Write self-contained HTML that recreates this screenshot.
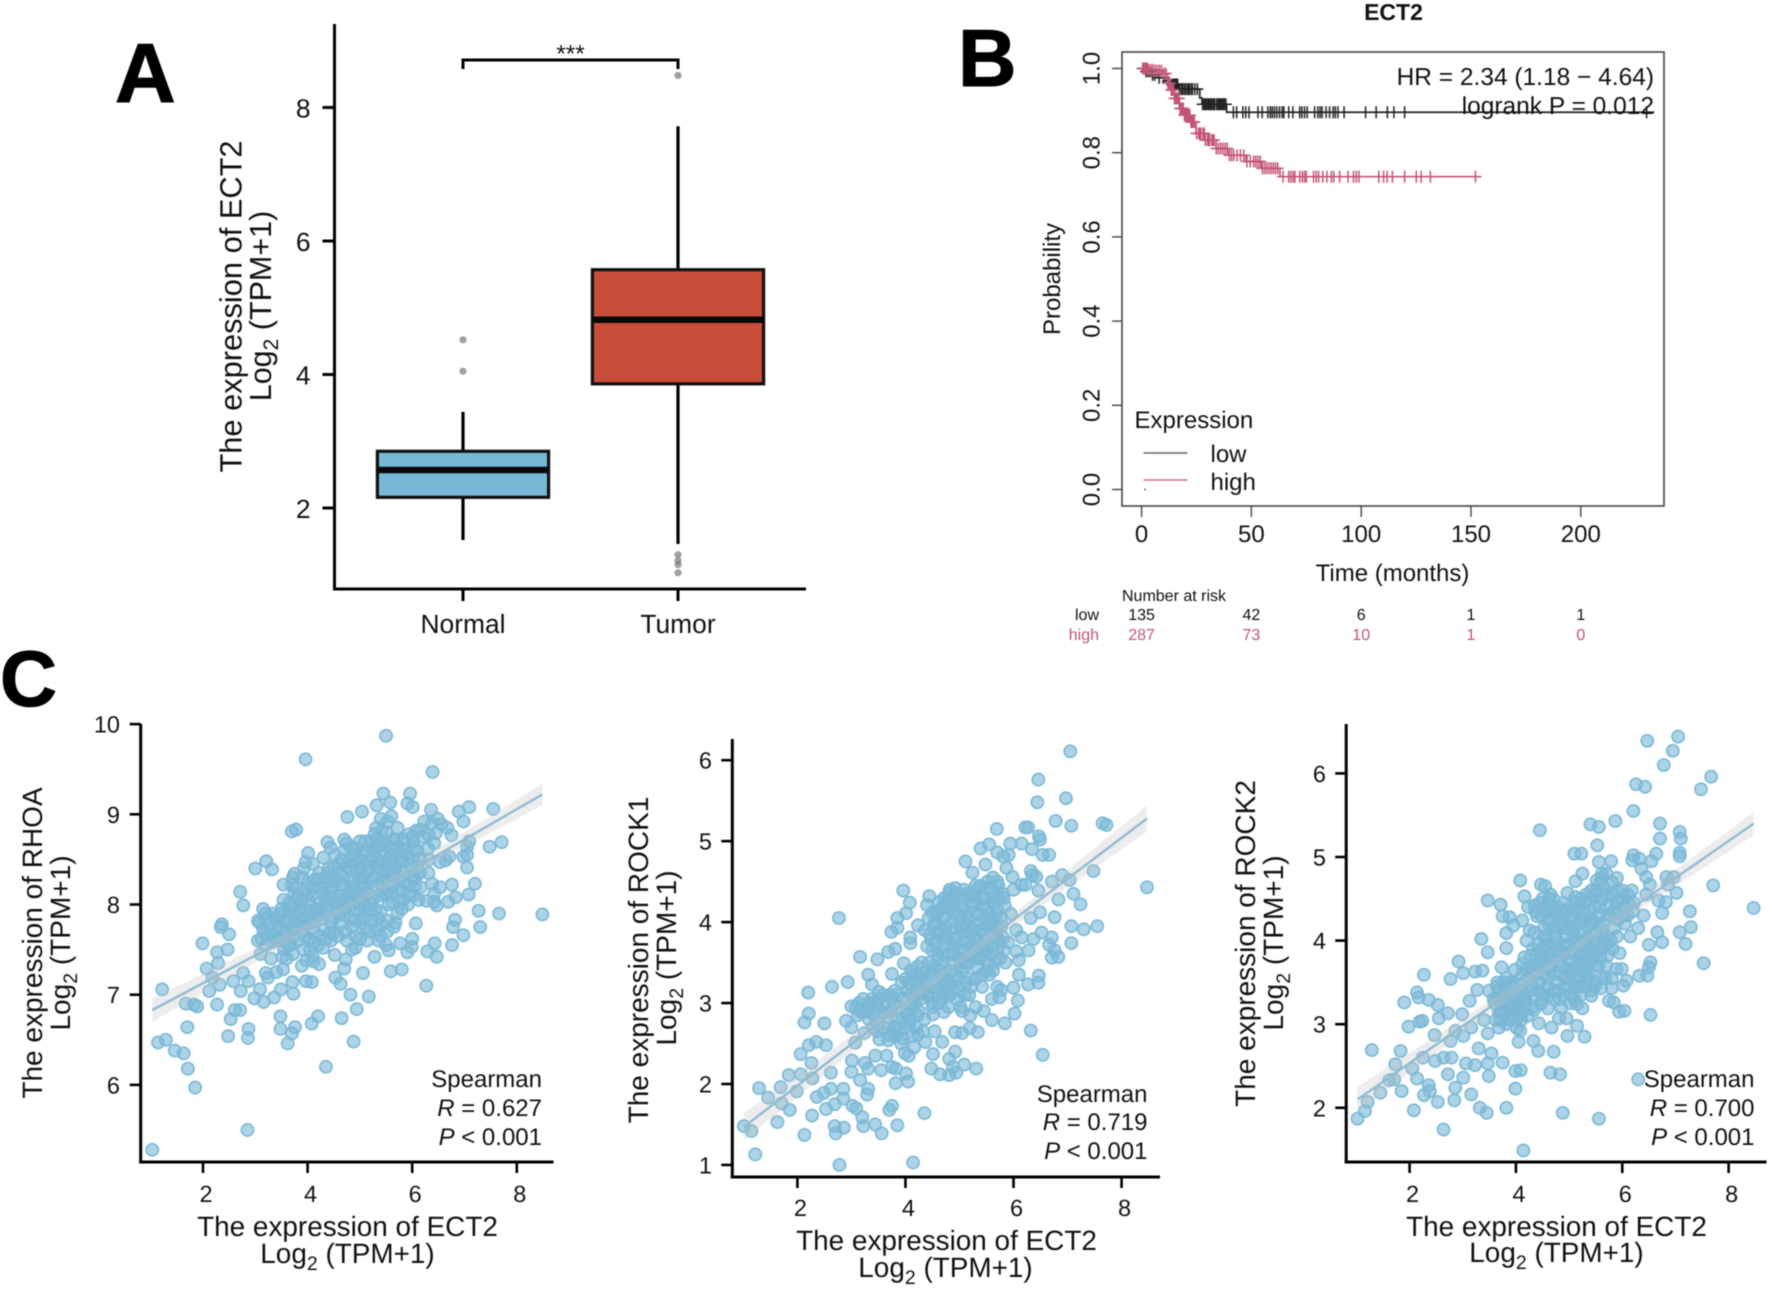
<!DOCTYPE html>
<html lang="en">
<head>
<meta charset="utf-8">
<title>ECT2 expression figure</title>
<style>
html,body{margin:0;padding:0;background:#fff;}
svg{display:block;font-family:"Liberation Sans",Arial,sans-serif;text-rendering:geometricPrecision;filter:blur(0.4px);}
</style>
</head>
<body>
<svg id="fig" xmlns="http://www.w3.org/2000/svg" width="1772" height="1290" viewBox="0 0 1772 1290">
<rect width="1772" height="1290" fill="#fff"/>
<text x="115" y="102" font-size="84" font-weight="bold" stroke="#000" stroke-width="1">A</text>
<text x="958" y="86" font-size="81" font-weight="bold" stroke="#000" stroke-width="1">B</text>
<text x="0" y="706" font-size="79" font-weight="bold" stroke="#000" stroke-width="1">C</text>

<g id="panelA"></g>
<text transform="translate(241.5,306.5) rotate(-90)" text-anchor="middle" font-size="30.8" fill="#111">The expression of ECT2</text>
<text transform="translate(271,306) rotate(-90)" text-anchor="middle" font-size="30.5" fill="#111">Log<tspan font-size="21" dy="7">2</tspan><tspan dy="-7"> (TPM+1)</tspan></text>

<g id="panelB"></g>
<text x="1393.5" y="20" text-anchor="middle" font-size="23" font-weight="bold" fill="#111">ECT2</text>
<text x="1654" y="85" text-anchor="end" font-size="24.5" fill="#111">HR = 2.34 (1.18 − 4.64)</text>
<text x="1654" y="114" text-anchor="end" font-size="24.5" fill="#111">logrank P = 0.012</text>
<text transform="translate(1060,279) rotate(-90)" text-anchor="middle" font-size="24" fill="#111">Probability</text>
<text x="1392.5" y="581" text-anchor="middle" font-size="24" fill="#111">Time (months)</text>
<text x="1134.5" y="428" font-size="24" fill="#111">Expression</text>
<line x1="1143.5" x2="1187.5" y1="453" y2="453" stroke="#666" stroke-width="1.6"/>
<text x="1210.5" y="462" font-size="24" fill="#111">low</text>
<line x1="1143.5" x2="1187.5" y1="480" y2="480" stroke="#cc6c8a" stroke-width="1.6"/>
<text x="1210.5" y="490" font-size="24" fill="#111">high</text>
<text x="1122" y="601" font-size="16" fill="#111">Number at risk</text>
<text x="1099" y="620" text-anchor="end" font-size="16" fill="#111">low</text>
<text x="1099" y="640" text-anchor="end" font-size="16" fill="#c25574">high</text>

<g id="panelC1"></g>
<text transform="translate(42,943) rotate(-90)" text-anchor="middle" font-size="28" fill="#111">The expression of RHOA</text>
<text transform="translate(70,943) rotate(-90)" text-anchor="middle" font-size="28" fill="#111">Log<tspan font-size="19.5" dy="7">2</tspan><tspan dy="-7"> (TPM+1)</tspan></text>
<text x="347.5" y="1236" text-anchor="middle" font-size="27.9" fill="#111">The expression of ECT2</text>
<text x="347.5" y="1263" text-anchor="middle" font-size="27.9" fill="#111">Log<tspan font-size="19.5" dy="7">2</tspan><tspan dy="-7"> (TPM+1)</tspan></text>
<text x="542" y="1087" text-anchor="end" font-size="24" fill="#111">Spearman</text>
<text x="542" y="1116" text-anchor="end" font-size="24" fill="#111"><tspan font-style="italic">R</tspan> = 0.627</text>
<text x="542" y="1145" text-anchor="end" font-size="24" fill="#111"><tspan font-style="italic">P</tspan> &lt; 0.001</text>

<g id="panelC2"></g>
<text transform="translate(648,960) rotate(-90)" text-anchor="middle" font-size="28" fill="#111">The expression of ROCK1</text>
<text transform="translate(676,958) rotate(-90)" text-anchor="middle" font-size="28" fill="#111">Log<tspan font-size="19.5" dy="7">2</tspan><tspan dy="-7"> (TPM+1)</tspan></text>
<text x="946.5" y="1250" text-anchor="middle" font-size="27.9" fill="#111">The expression of ECT2</text>
<text x="945.5" y="1277" text-anchor="middle" font-size="27.9" fill="#111">Log<tspan font-size="19.5" dy="7">2</tspan><tspan dy="-7"> (TPM+1)</tspan></text>
<text x="1147.5" y="1102" text-anchor="end" font-size="24" fill="#111">Spearman</text>
<text x="1147.5" y="1130" text-anchor="end" font-size="24" fill="#111"><tspan font-style="italic">R</tspan> = 0.719</text>
<text x="1147.5" y="1159" text-anchor="end" font-size="24" fill="#111"><tspan font-style="italic">P</tspan> &lt; 0.001</text>

<g id="panelC3"></g>
<text transform="translate(1255,943.5) rotate(-90)" text-anchor="middle" font-size="28" fill="#111">The expression of ROCK2</text>
<text transform="translate(1283,943) rotate(-90)" text-anchor="middle" font-size="28" fill="#111">Log<tspan font-size="19.5" dy="7">2</tspan><tspan dy="-7"> (TPM+1)</tspan></text>
<text x="1556.5" y="1236" text-anchor="middle" font-size="27.9" fill="#111">The expression of ECT2</text>
<text x="1556.5" y="1262" text-anchor="middle" font-size="27.9" fill="#111">Log<tspan font-size="19.5" dy="7">2</tspan><tspan dy="-7"> (TPM+1)</tspan></text>
<text x="1754.5" y="1087" text-anchor="end" font-size="24" fill="#111">Spearman</text>
<text x="1754.5" y="1116" text-anchor="end" font-size="24" fill="#111"><tspan font-style="italic">R</tspan> = 0.700</text>
<text x="1754.5" y="1145" text-anchor="end" font-size="24" fill="#111"><tspan font-style="italic">P</tspan> &lt; 0.001</text>
</svg>

<script>
/* ---------- Panel A data ---------- */
const boxCategories = ['Normal', 'Tumor'];
const boxQ1 = [2.16, 3.86];
const boxMedian = [2.57, 4.82];
const boxQ3 = [2.85, 5.57];
const boxWhiskerLow = [1.52, 1.46];
const boxWhiskerHigh = [3.44, 7.72];
const boxOutliersNormal = [4.52, 4.05];
const boxOutliersTumor = [8.48, 1.30, 1.21, 1.15, 1.03];
const boxYTicks = [2, 4, 6, 8];

/* ---------- Panel B data ---------- */
const kmXTicks = [0, 50, 100, 150, 200];
const kmYTicks = [0, 0.2, 0.4, 0.6, 0.8, 1.0];
const lowStepTime = [0, 2, 5, 7, 11, 14, 17, 26.5, 27.5, 38.7, 233.5];
const lowStepSurv = [1.0, 0.993, 0.985, 0.978, 0.97, 0.962, 0.951, 0.93, 0.915, 0.896, 0.896];
const highStepTime = [0, 3, 5.4, 9.7, 11.9, 13.4, 15, 17.2, 19.5, 22.5, 24.8, 28.6, 33.9, 39.2, 47.5, 54.3, 63, 154];
const highStepSurv = [1.0, 0.997, 0.995, 0.988, 0.965, 0.949, 0.929, 0.905, 0.889, 0.873, 0.846, 0.83, 0.81, 0.794, 0.779, 0.763, 0.743, 0.743];
const lowCensorTime = [0.5,1,2,3,4,5,6,8,10,12,14,14.6,15.2,15.8,16.4,17.2,18,18.7,19.5,20.2,21,21.7,22.5,23.2,24.3,25.4,27.8,28.4,29,29.6,30.2,30.8,31.4,32,32.7,33.3,34.2,34.8,35.4,36,36.6,37.2,37.7,38.4,41.8,43.3,46.1,47.4,48.9,53,54.9,57.5,58.6,59.5,60.5,61.6,62.8,64,64.8,67,68.9,72,73,74.2,75.4,78.8,80.3,81.3,82.2,84,85.6,87.2,88.2,89.4,92.2,102,106.8,111.9,114.9,119.8,230];
const highCensorTime = [0.5,1,1.5,2,2.5,3,4,5,6,7,8,9,10,11,12,12.5,13,13.5,14,14.5,15,15.5,16,16.5,17,17.5,18,18.5,19,19.5,20,20.5,21,21.5,22,22.5,23,23.5,24,25,26,26.5,27,28,28.5,29,30,30.5,31,32,32.5,33,34,35,36,37,38,39,40,41,42,43.5,45,46.5,48,49.5,51,52,53,54,55,56,57,58,59,60,61,62,64.4,67,68,69,69.8,72,73.2,74.2,75,78.3,79.5,80.6,82.5,84.4,86.4,87.5,90.2,94,96.5,97.8,99,108,110.2,111.8,114.2,119.8,125.1,127.3,131.5,152];
const riskLow = [135, 42, 6, 1, 1];
const riskHigh = [287, 73, 10, 1, 0];

/* ---------- Panel C data: [ECT2, gene] ---------- */
const rhoaPoints = [[1.03,5.28],[2.85,5.50],[1.85,5.97],[1.71,6.18],[1.63,6.35],[1.46,6.38],[1.29,6.50],[1.14,6.47],[1.22,7.06],[1.70,6.64],[1.67,6.90],[1.83,6.89],[1.89,6.87],[2.27,6.89],[2.53,6.73],[2.61,6.83],[2.71,6.83],[2.48,6.54],[2.87,6.62],[2.86,6.52],[3.48,6.76],[3.48,6.62],[3.62,6.46],[3.70,6.57],[3.76,6.64],[4.08,6.68],[4.20,6.76],[4.35,6.20],[4.88,6.48],[4.65,6.74],[4.94,6.84],[5.17,6.98],[4.82,7.00],[3.36,6.97],[3.16,6.92],[2.98,6.96],[3.09,7.06],[2.72,7.04],[2.87,7.15],[2.77,7.24],[2.58,7.15],[2.32,7.11],[2.18,7.19],[2.07,7.29],[2.12,7.04],[1.99,7.57],[2.27,7.47],[2.47,7.50],[2.29,7.35],[2.50,7.67],[2.34,7.75],[2.36,7.78],[2.71,8.14],[2.77,7.99],[3.00,8.40],[3.21,8.48],[3.32,8.39],[3.54,8.22],[3.70,8.81],[3.78,8.83],[3.96,8.47],[4.01,8.57],[3.75,8.34],[4.38,8.69],[4.44,8.63],[4.76,8.97],[5.04,9.03],[5.32,9.10],[5.45,9.23],[5.50,9.87],[3.96,9.61],[6.39,9.47],[5.96,9.23],[5.91,9.12],[6.01,9.08],[6.36,9.05],[5.58,9.13],[6.89,9.03],[7.09,9.08],[6.98,8.92],[7.55,9.06],[7.71,8.69],[7.48,8.64],[7.09,8.70],[7.05,8.64],[7.05,8.55],[6.98,8.53],[7.05,8.41],[7.20,8.23],[7.08,8.11],[6.76,8.22],[6.83,8.08],[6.69,8.03],[7.27,7.93],[7.66,7.90],[8.49,7.89],[7.30,7.75],[6.98,7.66],[6.78,7.75],[6.82,7.83],[6.76,7.55],[6.43,7.57],[6.47,7.42],[6.29,7.48],[6.27,7.10],[6.00,7.62],[5.99,7.53],[5.91,7.47],[5.77,7.57],[5.80,7.28],[5.59,7.26],[5.55,7.49],[6.07,7.79],[5.28,7.42],[5.06,7.24],[4.73,7.39],[4.70,7.29],[4.63,7.12],[4.53,7.19],[4.08,7.14],[3.97,7.15],[3.71,7.14],[3.73,7.01],[3.49,7.06],[3.24,7.19],[3.20,7.24],[3.53,7.28],[3.60,7.40],[3.89,7.32],[4.11,7.37],[4.22,7.34],[4.52,7.44],[4.92,7.52],[5.14,7.60],[5.36,7.60],[6.49,8.95],[6.38,8.90],[6.23,8.92],[6.56,8.89],[6.45,8.79],[6.31,8.77],[6.67,8.85],[6.75,8.77],[6.16,8.83],[6.42,8.68],[6.64,8.49],[6.53,8.47],[6.71,8.53],[6.31,8.35],[6.38,8.23],[6.53,8.19],[6.27,8.04],[6.42,8.03],[6.47,7.99],[6.42,8.12],[6.16,8.19],[6.05,8.29],[3.05,7.82],[3.15,7.72],[3.2,7.9],[3.28,7.78],[3.35,7.66],[3.38,7.85],[3.45,7.75],[3.5,7.95],[3.55,7.68],[3.6,7.84],[3.65,8.02],[3.7,7.72],[3.75,7.9],[3.8,8.08],[3.85,7.8],[3.9,7.95],[3.78,8.18],[3.72,8.3],[3.95,7.65],[3.68,7.55],[3.2,7.55],[3.05,7.6],[3.1,7.45],[3.3,7.4],[3.4,7.25],[3.55,7.5],[4.0,8.05],[4.05,7.85],[4.1,8.2],[4.12,7.7],[4.18,7.95],[4.22,8.35],[4.28,7.85],[4.3,8.12],[4.35,7.62],[4.38,8.0],[4.4,8.4],[4.45,7.8],[4.48,8.2],[4.52,8.55],[4.55,7.95],[4.58,7.65],[4.6,8.1],[4.62,8.35],[4.05,7.5],[4.2,7.55],[3.98,7.38],[4.1,7.42],[4.3,7.52],[4.45,7.6],[4.65,8.5],[4.7,7.88],[4.72,8.2],[4.75,8.68],[4.78,8.02],[4.82,8.38],[4.85,7.75],[4.88,8.55],[4.9,8.12],[4.95,7.95],[4.98,8.3],[5.0,8.7],[5.02,8.48],[5.05,8.05],[5.08,7.85],[5.1,8.22],[5.12,8.6],[5.15,8.38],[5.18,7.7],[4.75,7.6],[4.85,7.5],[5.0,7.62],[4.7,8.72],[5.22,8.0],[5.25,8.52],[5.28,8.78],[5.3,8.2],[5.32,8.4],[5.35,7.85],[5.38,8.65],[5.4,8.95],[5.42,8.1],[5.45,8.3],[5.48,8.55],[5.5,8.8],[5.52,7.7],[5.55,8.0],[5.58,8.42],[5.6,8.98],[5.62,8.2],[5.65,8.62],[5.68,7.8],[5.7,8.35],[5.72,8.85],[5.75,8.05],[5.78,8.5],[5.8,7.95],[5.82,8.72],[5.85,8.25],[5.9,8.55],[5.95,8.1],[5.98,8.38],[6.0,8.75],[6.02,8.5],[6.05,8.2],[6.1,8.6],[6.15,8.35],[6.2,8.75],[5.5,7.55],[5.65,7.75],[5.4,7.65]];
const rhoaCorePoints = [[3.12,7.62],[3.08,7.8],[3.15,7.95],[3.32,7.58],[3.3,7.7],[3.34,7.9],[3.52,7.42],[3.5,7.6],[3.55,7.8],[3.48,7.9],[3.54,8.05],[3.72,7.45],[3.7,7.62],[3.75,7.82],[3.68,7.98],[3.74,8.12],[3.7,8.22],[3.92,7.5],[3.9,7.7],[3.95,7.85],[3.88,8.02],[3.94,8.15],[3.9,8.3],[3.93,8.4],[4.12,7.58],[4.1,7.8],[4.15,7.95],[4.08,8.1],[4.14,8.28],[4.1,8.45],[4.32,7.72],[4.3,7.9],[4.35,8.05],[4.28,8.2],[4.34,8.3],[4.3,8.52],[4.52,7.7],[4.5,7.85],[4.55,8.02],[4.48,8.15],[4.54,8.28],[4.5,8.42],[4.72,7.7],[4.7,7.95],[4.75,8.08],[4.68,8.3],[4.74,8.42],[4.7,8.6],[4.92,7.65],[4.9,7.82],[4.95,8.02],[4.88,8.2],[4.94,8.38],[4.9,8.45],[4.93,8.62],[5.12,7.75],[5.1,7.95],[5.15,8.12],[5.08,8.3],[5.14,8.48],[5.1,8.7],[5.32,7.72],[5.3,7.95],[5.35,8.1],[5.28,8.3],[5.34,8.48],[5.3,8.6],[5.33,8.72],[5.31,8.85],[5.52,7.82],[5.5,8.12],[5.55,8.25],[5.48,8.35],[5.54,8.5],[5.5,8.65],[5.53,8.92],[5.72,7.9],[5.7,8.15],[5.75,8.28],[5.68,8.42],[5.74,8.58],[5.7,8.72],[5.92,8.0],[5.9,8.22],[5.95,8.45],[5.88,8.62],[5.94,8.78],[6.12,8.05],[6.1,8.42],[6.15,8.5],[6.08,8.82],[6.32,8.5],[6.3,8.62]];
const rhoaDensePoints = [[3.2,7.68],[3.22,7.85],[3.42,7.62],[3.44,7.82],[3.62,7.55],[3.6,7.72],[3.64,7.92],[3.82,7.6],[3.8,7.75],[3.84,7.92],[3.82,8.05],[4.02,7.62],[4.0,7.78],[4.04,7.93],[4.02,8.12],[4.0,8.25],[4.22,7.65],[4.2,7.88],[4.24,8.02],[4.22,8.18],[4.2,8.28],[4.42,7.68],[4.4,7.92],[4.44,8.08],[4.42,8.25],[4.4,8.35],[4.62,7.78],[4.6,7.92],[4.64,8.05],[4.62,8.22],[4.6,8.45],[4.82,7.85],[4.8,8.02],[4.84,8.15],[4.82,8.28],[4.8,8.48],[4.84,8.62],[5.02,7.8],[5.0,7.92],[5.04,8.1],[5.02,8.25],[5.0,8.4],[5.04,8.55],[5.22,7.82],[5.2,7.95],[5.24,8.08],[5.22,8.25],[5.2,8.42],[5.24,8.6],[5.22,8.7],[5.42,7.78],[5.4,7.92],[5.44,8.2],[5.42,8.38],[5.4,8.48],[5.44,8.7],[5.42,8.82],[5.62,8.02],[5.6,8.12],[5.64,8.32],[5.62,8.45],[5.6,8.55],[5.64,8.72],[5.82,8.05],[5.8,8.15],[5.84,8.35],[5.82,8.48],[5.8,8.62],[6.02,8.1],[6.0,8.3],[6.04,8.62],[6.02,8.7]];
const rock1Points = [[1.01,1.48],[1.15,1.42],[1.22,1.13],[1.29,1.95],[1.46,1.83],[1.63,1.53],[1.69,1.96],[1.71,1.76],[1.86,1.68],[1.84,2.11],[1.99,1.91],[2.06,2.12],[2.06,2.37],[2.13,1.37],[2.13,2.76],[2.21,2.87],[2.20,3.13],[2.27,1.61],[2.21,2.48],[2.35,2.52],[2.26,2.26],[2.28,2.07],[2.36,1.84],[2.49,1.89],[2.53,1.69],[2.50,2.75],[2.64,3.20],[2.53,2.48],[2.62,2.14],[2.62,1.94],[2.69,1.75],[2.69,1.48],[2.71,1.39],[2.78,1.00],[2.86,1.46],[2.85,1.94],[2.85,1.82],[2.93,3.26],[2.77,4.05],[3.02,1.73],[3.09,1.70],[3.20,1.59],[3.22,1.48],[3.44,1.50],[3.56,1.39],[3.31,1.94],[3.29,1.87],[3.16,2.05],[3.00,2.15],[3.01,2.29],[3.25,2.26],[3.31,2.19],[3.70,1.68],[3.75,1.73],[3.85,1.49],[4.35,1.64],[4.14,1.03],[3.82,2.01],[4.05,2.03],[4.01,2.13],[4.48,2.19],[4.64,2.12],[4.81,2.11],[4.94,2.14],[5.09,2.24],[5.31,2.19],[4.88,2.21],[4.51,2.37],[4.81,2.31],[4.92,2.40],[4.68,2.52],[4.37,2.52],[4.16,2.45],[3.99,2.38],[4.06,2.35],[3.44,2.35],[3.65,2.35],[3.82,2.19],[3.55,2.17],[3.75,2.21],[6.32,2.66],[6.54,2.36],[4.92,2.64],[5.05,2.63],[5.19,2.69],[5.34,2.64],[5.60,2.79],[5.84,2.75],[6.02,2.87],[6.08,3.03],[5.74,3.07],[5.77,3.16],[6.00,3.19],[6.27,3.23],[6.46,3.25],[6.47,3.34],[6.28,3.65],[6.10,3.53],[6.05,3.64],[5.81,3.81],[6.15,3.81],[6.37,3.79],[6.71,3.81],[6.52,3.87],[6.66,3.72],[6.83,3.57],[6.71,3.56],[6.76,3.65],[7.07,3.74],[7.07,3.95],[7.30,3.91],[7.55,3.95],[6.76,4.06],[6.83,4.28],[7.24,4.22],[7.11,4.35],[8.47,4.43],[7.48,4.63],[6.90,4.58],[6.71,4.50],[7.04,4.52],[6.49,4.12],[6.32,4.05],[6.46,4.39],[6.32,4.63],[6.35,4.58],[6.42,4.56],[6.15,4.46],[6.22,4.46],[6.15,4.97],[5.94,4.97],[6.34,4.90],[6.49,5.02],[6.54,4.83],[6.66,4.83],[6.47,5.06],[6.22,5.17],[6.27,5.17],[5.69,5.15],[5.55,4.96],[5.39,4.91],[5.70,4.86],[5.91,4.83],[5.81,4.81],[5.87,4.67],[5.98,4.56],[5.48,4.71],[5.11,4.75],[5.24,4.61],[7.07,5.19],[6.78,5.25],[6.97,5.53],[6.44,5.48],[6.46,5.76],[7.05,6.11],[7.65,5.22],[7.72,5.20],[3.96,4.39],[4.08,4.24],[4.01,4.11],[3.85,4.05],[3.85,3.93],[3.74,3.88],[4.23,3.96],[4.44,4.32],[4.40,4.21],[4.81,4.36],[4.09,3.81],[4.09,3.74],[3.68,3.63],[3.81,3.67],[3.16,3.57],[3.48,3.54],[3.31,3.35],[3.38,3.23],[3.75,3.36],[3.97,3.49],[3.51,3.14],[3.00,2.96],[3.14,2.91],[3.27,2.93],[2.90,2.78],[3.00,2.70],[3.07,2.51],[3.24,2.63],[3.48,3.00],[3.75,3.07],[4.03,3.16],[3.62,2.89],[3.48,2.65],[3.82,2.70],[3.68,2.54],[4.09,2.79],[3.96,2.56],[4.23,2.61],[4.16,3.07],[4.37,3.28],[4.23,3.26],[4.51,2.86],[4.71,2.89],[4.54,2.65],[4.45,3.85],[4.5,3.65],[4.52,3.4],[4.55,4.0],[4.58,3.2],[4.6,3.55],[4.62,3.85],[4.65,4.15],[4.68,3.05],[4.7,3.35],[4.72,3.7],[4.75,3.95],[4.78,4.25],[4.8,2.95],[4.82,3.2],[4.85,3.5],[4.88,3.8],[4.9,4.1],[4.92,4.35],[4.95,3.05],[4.98,3.3],[5.0,3.65],[5.02,3.95],[5.05,4.2],[5.08,4.4],[5.1,3.45],[5.12,3.75],[5.15,4.05],[5.18,3.1],[5.2,3.3],[5.22,3.6],[5.25,3.9],[5.28,4.25],[5.3,4.45],[5.32,3.45],[5.35,3.75],[5.38,4.0],[5.4,4.3],[5.42,3.2],[5.45,3.6],[5.48,3.85],[5.5,4.15],[5.52,4.5],[5.55,3.35],[5.58,3.7],[5.6,4.0],[5.62,4.3],[5.65,3.5],[5.68,3.85],[5.7,4.15],[5.72,4.45],[5.75,3.55],[5.78,4.05],[5.82,4.3],[5.85,3.5],[5.9,3.75],[5.95,4.1],[6.0,4.4],[6.05,3.9],[6.1,3.35],[4.1,3.4],[4.2,3.35],[4.3,3.2],[4.4,3.1],[4.15,3.05],[4.25,2.9],[4.35,2.8],[4.05,2.85],[4.5,2.95],[4.45,3.35],[4.3,3.5],[5.05,2.9],[5.2,2.85],[5.3,2.95],[5.45,2.9],[5.6,3.05],[5.7,3.2]];
const rock1CorePoints = [[4.42,3.1],[4.38,3.3],[4.44,3.5],[4.4,3.7],[4.36,3.9],[4.43,4.05],[4.62,3.0],[4.58,3.15],[4.64,3.4],[4.6,3.6],[4.56,3.75],[4.63,3.9],[4.59,4.1],[4.62,4.25],[4.82,3.1],[4.78,3.25],[4.84,3.4],[4.8,3.6],[4.76,3.85],[4.83,4.0],[4.79,4.2],[4.82,4.4],[5.02,2.95],[4.98,3.2],[5.04,3.4],[5.0,3.55],[4.96,3.75],[5.03,3.9],[4.99,4.1],[5.02,4.3],[5.22,3.2],[5.18,3.5],[5.24,3.7],[5.2,3.85],[5.16,4.05],[5.23,4.2],[5.19,4.35],[5.42,3.35],[5.38,3.55],[5.44,3.7],[5.4,3.9],[5.36,4.1],[5.43,4.2],[5.39,4.45],[5.62,3.4],[5.58,3.6],[5.64,3.8],[5.6,3.95],[5.56,4.1],[5.63,4.25],[5.59,4.4],[5.62,4.55],[5.82,3.65],[5.78,3.95],[5.84,4.2],[5.8,4.35],[3.12,2.85],[3.08,2.95],[3.14,3.0],[3.32,2.8],[3.28,2.9],[3.34,3.0],[3.52,2.55],[3.48,2.75],[3.54,2.9],[3.5,3.05],[3.72,2.6],[3.68,2.75],[3.74,2.9],[3.7,3.1],[3.92,2.5],[3.88,2.65],[3.94,2.8],[3.9,2.95],[3.86,3.1],[3.93,3.25],[4.12,2.6],[4.08,2.75],[4.14,2.95],[4.1,3.1],[4.06,3.25],[4.13,3.35],[4.32,2.65],[4.28,3.05],[4.34,3.15],[4.3,3.35]];
const rock1DensePoints = [[4.5,3.0],[4.52,3.2],[4.5,3.45],[4.48,3.78],[4.52,3.95],[4.5,4.12],[4.7,3.1],[4.72,3.28],[4.7,3.48],[4.68,3.62],[4.72,3.8],[4.7,4.05],[4.68,4.18],[4.72,4.3],[4.9,3.15],[4.92,3.35],[4.9,3.6],[4.88,3.7],[4.92,3.92],[4.9,4.15],[4.88,4.28],[4.92,4.42],[5.1,3.1],[5.12,3.25],[5.1,3.5],[5.08,3.65],[5.12,3.82],[5.1,3.98],[5.08,4.15],[5.12,4.35],[5.3,3.3],[5.32,3.55],[5.3,3.65],[5.28,3.8],[5.32,3.95],[5.3,4.12],[5.28,4.32],[5.32,4.4],[5.5,3.4],[5.52,3.5],[5.5,3.65],[5.48,3.78],[5.52,3.95],[5.5,4.05],[5.48,4.3],[5.52,4.42],[5.7,3.65],[5.72,3.78],[5.7,3.92],[5.68,4.1],[5.72,4.28],[5.7,4.5],[3.2,2.88],[3.22,3.05],[3.4,2.7],[3.42,2.85],[3.38,3.05],[3.6,2.7],[3.62,2.95],[3.58,3.1],[3.8,2.6],[3.82,2.8],[3.78,3.0],[3.8,3.15],[4.0,2.7],[4.02,2.9],[3.98,3.05],[4.0,3.3],[4.2,2.7],[4.22,2.85],[4.18,3.0],[4.2,3.15],[4.22,3.45]];
const rock2Points = [[1.02,1.87],[1.16,1.96],[1.21,2.07],[1.29,2.69],[1.45,2.18],[1.62,2.33],[1.71,2.34],[1.73,2.52],[1.85,2.20],[1.83,2.68],[1.90,3.26],[1.98,2.97],[2.05,2.47],[2.08,1.97],[2.14,2.35],[2.14,3.38],[2.17,3.32],[2.19,3.03],[2.24,3.04],[2.25,2.60],[2.27,3.59],[2.27,2.15],[2.36,3.29],[2.36,2.27],[2.38,2.20],[2.47,2.87],[2.48,2.56],[2.53,3.23],[2.53,2.07],[2.55,3.07],[2.64,1.74],[2.64,2.60],[2.72,2.40],[2.72,3.13],[2.77,3.54],[2.77,2.80],[2.79,2.60],[2.84,2.09],[2.86,2.24],[2.92,3.75],[3.01,3.61],[2.99,3.12],[3.01,2.86],[3.01,2.36],[3.06,2.53],[3.16,2.16],[3.13,3.28],[3.23,2.51],[3.32,2.00],[3.45,1.94],[3.49,2.38],[3.47,2.53],[3.54,2.65],[3.75,2.54],[3.30,2.71],[3.47,3.86],[3.35,4.02],[3.23,3.63],[3.37,3.64],[3.27,3.41],[3.47,4.48],[3.71,4.43],[3.75,4.29],[3.88,4.28],[3.82,4.09],[3.82,3.91],[3.73,3.68],[3.95,4.18],[4.12,4.24],[4.26,4.12],[4.08,4.72],[4.16,4.53],[4.47,4.67],[4.45,5.32],[4.23,4.40],[4.35,4.42],[4.40,4.29],[4.53,4.15],[4.97,4.57],[5.12,4.71],[5.25,4.80],[5.10,5.04],[5.23,5.04],[5.40,5.39],[5.56,5.36],[5.87,5.43],[5.53,5.14],[5.56,4.94],[5.79,4.95],[5.90,4.75],[6.21,5.55],[6.26,5.87],[6.43,5.84],[6.47,6.39],[7.05,6.44],[6.95,6.27],[6.78,6.10],[7.48,5.81],[7.67,5.96],[6.71,5.40],[6.71,5.22],[7.08,5.30],[7.10,5.22],[7.08,5.05],[7.08,5.01],[6.64,5.04],[6.55,4.95],[6.21,5.02],[6.19,4.96],[6.32,4.98],[6.36,4.86],[6.45,4.76],[6.52,4.67],[6.83,4.76],[6.97,4.76],[6.86,4.67],[7.02,4.57],[7.71,4.66],[8.47,4.39],[6.68,4.48],[6.82,4.46],[6.75,4.33],[7.27,4.35],[7.29,4.16],[7.08,4.10],[6.66,4.10],[6.75,3.98],[7.19,3.96],[7.53,3.73],[6.53,3.74],[6.50,3.68],[6.47,3.58],[6.32,3.58],[6.08,3.52],[6.02,3.46],[5.99,3.66],[5.89,3.66],[5.80,3.55],[5.80,3.43],[5.60,3.43],[5.42,3.34],[5.75,3.28],[5.84,3.26],[5.94,3.15],[6.04,3.16],[6.53,3.11],[5.25,3.19],[5.15,3.24],[5.15,2.98],[5.29,2.85],[4.97,2.86],[4.95,3.07],[4.81,3.07],[4.67,2.96],[4.71,2.67],[4.65,2.42],[4.83,2.40],[4.88,1.94],[5.56,1.87],[4.14,1.49],[3.82,2.00],[3.99,2.23],[3.99,2.44],[4.09,2.45],[4.42,2.68],[4.33,2.80],[4.08,2.92],[4.05,2.79],[4.43,3.01],[4.34,3.17],[4.47,3.25],[4.60,3.19],[6.30,2.34],[2.86,2.92],[3.16,2.96],[3.47,2.89],[3.68,2.96],[3.88,3.05],[3.68,3.14],[3.88,3.19],[4.09,3.10],[3.40,3.05],[3.5,3.4],[3.6,3.25],[3.65,3.5],[3.72,3.15],[3.78,3.35],[3.82,3.55],[3.88,3.3],[3.92,3.45],[3.98,3.65],[4.02,3.25],[4.08,3.4],[4.12,3.72],[4.18,3.3],[4.22,3.55],[4.28,3.82],[4.32,3.45],[4.38,3.7],[4.42,3.95],[4.45,3.5],[4.5,3.3],[4.52,3.75],[4.55,4.4],[4.58,3.95],[4.6,3.45],[4.62,4.2],[4.65,3.65],[4.68,3.85],[4.7,4.5],[4.72,3.3],[4.75,4.05],[4.78,3.5],[4.8,4.3],[4.82,3.75],[4.85,3.2],[4.88,3.95],[4.9,4.45],[4.92,3.45],[4.95,4.15],[4.98,3.65],[5.0,3.85],[5.02,4.3],[5.05,3.35],[5.08,4.05],[5.1,3.55],[5.12,4.45],[5.15,3.75],[5.18,4.2],[5.2,3.95],[5.22,3.45],[5.25,4.35],[5.28,3.65],[5.3,4.1],[5.32,3.85],[5.35,3.55],[5.38,4.5],[5.4,3.75],[5.42,4.25],[5.45,3.95],[5.48,3.45],[5.5,4.6],[5.52,4.1],[5.55,3.7],[5.58,4.4],[5.6,3.9],[5.62,4.75],[5.65,4.2],[5.68,3.55],[5.7,4.55],[5.72,3.95],[5.75,4.3],[5.8,4.7],[5.85,4.15],[5.9,4.45],[5.95,3.85],[6.0,4.6],[6.05,4.2],[6.1,4.55],[6.15,4.05],[6.2,4.35],[6.3,4.15],[6.4,4.3],[6.45,4.55],[6.5,3.95],[4.45,4.45],[4.35,4.1],[4.2,4.0],[4.55,4.65],[4.65,4.55]];
const rock2CorePoints = [[3.62,3.05],[3.58,3.3],[3.64,3.45],[3.82,3.0],[3.78,3.15],[3.84,3.25],[3.8,3.4],[3.76,3.5],[4.02,2.95],[3.98,3.1],[4.04,3.2],[4.0,3.35],[3.96,3.5],[4.22,3.1],[4.18,3.25],[4.24,3.4],[4.2,3.65],[4.16,3.8],[4.42,3.4],[4.38,3.6],[4.44,3.75],[4.4,3.85],[4.36,4.35],[4.62,3.35],[4.58,3.55],[4.64,3.7],[4.6,3.8],[4.56,4.0],[4.63,4.25],[4.59,4.35],[4.62,4.5],[4.82,3.3],[4.78,3.4],[4.84,3.6],[4.8,3.9],[4.76,4.1],[4.83,4.2],[4.79,4.4],[5.02,3.25],[4.98,3.45],[5.04,3.6],[5.0,3.75],[4.96,3.95],[5.03,4.15],[4.99,4.25],[5.02,4.4],[5.22,3.35],[5.18,3.5],[5.24,3.7],[5.2,3.8],[5.16,4.0],[5.23,4.2],[5.19,4.4],[5.22,4.5],[5.42,3.4],[5.38,3.6],[5.44,3.8],[5.4,3.9],[5.36,4.05],[5.43,4.2],[5.39,4.35],[5.42,4.6],[5.62,3.55],[5.58,3.8],[5.64,3.95],[5.6,4.1],[5.56,4.3],[5.63,4.5],[5.59,4.7],[5.62,4.8],[5.82,3.9],[5.78,4.0],[5.84,4.35],[5.8,4.55],[6.02,4.3],[5.98,4.5],[6.04,4.4],[6.22,4.45],[6.18,4.6]];
const rock2DensePoints = [[3.7,3.05],[3.72,3.25],[3.68,3.4],[3.9,3.05],[3.92,3.2],[3.88,3.35],[3.9,3.5],[4.1,3.05],[4.12,3.15],[4.08,3.3],[4.1,3.48],[4.12,3.6],[4.3,3.2],[4.32,3.35],[4.28,3.6],[4.3,3.7],[4.32,3.9],[4.5,3.35],[4.52,3.6],[4.48,3.82],[4.5,3.9],[4.52,4.05],[4.48,4.3],[4.5,4.5],[4.7,3.4],[4.72,3.6],[4.68,3.78],[4.7,3.95],[4.72,4.15],[4.68,4.4],[4.7,4.35],[4.9,3.35],[4.92,3.55],[4.88,3.7],[4.9,3.85],[4.92,4.05],[4.88,4.25],[4.9,4.35],[5.1,3.3],[5.12,3.45],[5.08,3.65],[5.1,3.85],[5.12,3.98],[5.08,4.12],[5.1,4.35],[5.12,4.52],[5.3,3.45],[5.32,3.6],[5.28,3.75],[5.3,3.95],[5.32,4.02],[5.28,4.25],[5.3,4.45],[5.32,4.55],[5.5,3.5],[5.52,3.7],[5.48,3.85],[5.5,4.0],[5.52,4.2],[5.48,4.4],[5.5,4.55],[5.52,4.72],[5.7,3.7],[5.72,3.82],[5.68,4.05],[5.7,4.25],[5.72,4.4],[5.68,4.62],[5.7,4.8],[5.9,4.05],[5.92,4.25],[5.88,4.4],[5.9,4.6],[6.1,4.3],[6.12,4.45]];

const rhoaYTicks = [6, 7, 8, 9, 10];
const rock1YTicks = [1, 2, 3, 4, 5, 6];
const rock2YTicks = [2, 3, 4, 5, 6];
const ectXTicks = [2, 4, 6, 8];

const rhoaFitX = [1.03, 4.9, 8.49];
const rhoaFitY = [6.83, 8.02, 9.22];
const rhoaFitCI = [0.13, 0.03, 0.12];
const rock1FitX = [1.01, 4.9, 8.47];
const rock1FitY = [1.47, 3.47, 5.28];
const rock1FitCI = [0.17, 0.04, 0.16];
const rock2FitX = [1.02, 4.9, 8.47];
const rock2FitY = [2.10, 3.82, 5.40];
const rock2FitCI = [0.15, 0.035, 0.14];

/* ---------- helpers ---------- */
const NS = 'http://www.w3.org/2000/svg';
function mk(parent, tag, attrs, text) {
  const el = document.createElementNS(NS, tag);
  for (const k in attrs) el.setAttribute(k, attrs[k]);
  if (text !== undefined) el.textContent = text;
  parent.appendChild(el);
  return el;
}

/* ---------- Panel A ---------- */
(function () {
  const g = document.getElementById('panelA');
  const yA = v => 508 - (v - 2) * 66.75;
  const xA = [463, 678];
  const boxHalf = 85.6;
  const fills = ['#76b8d6', '#c84e39'];
  const outlierSets = [boxOutliersNormal, boxOutliersTumor];

  let el = mk(g, 'line', { x1: 334.5, x2: 334.5, y1: 24, y2: 590.5, stroke: '#000', 'stroke-width': 3 });
  
  
  el = mk(g, 'line', { x1: 333, x2: 806, y1: 589, y2: 589, stroke: '#000', 'stroke-width': 3 });
  
  

  boxYTicks.forEach(t => {
    const tick = mk(g, 'line', { x1: 322.5, x2: 334.5, y1: yA(t), y2: yA(t), stroke: '#000', 'stroke-width': 3 });
    
    
    const lab = mk(g, 'text', { x: 310.5, y: yA(t) + 10, 'text-anchor': 'end', 'font-size': 26.4, fill: '#111' }, String(t));
    
    
  });

  boxCategories.forEach((c, i) => {
    const x = xA[i];
    const tick = mk(g, 'line', { x1: x, x2: x, y1: 589, y2: 601, stroke: '#000', 'stroke-width': 3 });
    
    
    const lab = mk(g, 'text', { x: x, y: 633, 'text-anchor': 'middle', 'font-size': 26.4, fill: '#111' }, c);
    
    

    const wh = mk(g, 'line', { x1: x, x2: x, y1: yA(boxWhiskerHigh[i]), y2: yA(boxWhiskerLow[i]), stroke: '#000', 'stroke-width': 3.2 });
    
    

    const box = mk(g, 'rect', { x: x - boxHalf, y: yA(boxQ3[i]), width: boxHalf * 2, height: yA(boxQ1[i]) - yA(boxQ3[i]), fill: fills[i], stroke: '#111', 'stroke-width': 3.2 });
    
    

    const med = mk(g, 'line', { x1: x - boxHalf, x2: x + boxHalf, y1: yA(boxMedian[i]), y2: yA(boxMedian[i]), stroke: '#0a0a0a', 'stroke-width': 6.5 });
    
    

    outlierSets[i].forEach(v => {
      const o = mk(g, 'circle', { cx: x, cy: yA(v), r: 3.6, fill: 'rgba(120,120,120,0.7)' });
      
      
    });
  });

  el = mk(g, 'path', { d: 'M' + xA[0] + ' 69V60H' + xA[1] + 'V69', fill: 'none', stroke: '#000', 'stroke-width': 3 });
  
  
  el = mk(g, 'text', { x: 570.5, y: 62, 'text-anchor': 'middle', 'font-size': 24.5, fill: '#111' }, '***');
  
  
})();

/* ---------- Panel B ---------- */
(function () {
  const g = document.getElementById('panelB');
  const xK = t => 1141.6 + t * 2.196;
  const yK = p => 489.5 - p * 421;
  const lowCol = '#222222', highCol = '#c25574';

  let el = mk(g, 'rect', { x: 1122, y: 52, width: 542, height: 454, fill: 'none', stroke: '#444', 'stroke-width': 1.6 });
  
  

  kmXTicks.forEach((t, i) => {
    const tick = mk(g, 'line', { x1: xK(t), x2: xK(t), y1: 506, y2: 517, stroke: '#444', 'stroke-width': 1.4 });
    
    
    const lab = mk(g, 'text', { x: xK(t), y: 542, 'text-anchor': 'middle', 'font-size': 24, fill: '#111' }, String(t));
    
    
    const r1 = mk(g, 'text', { x: xK(t), y: 620, 'text-anchor': 'middle', 'font-size': 16, fill: '#111' }, String(riskLow[i]));
    
    
    const r2 = mk(g, 'text', { x: xK(t), y: 640, 'text-anchor': 'middle', 'font-size': 16, fill: highCol }, String(riskHigh[i]));
    
    
  });

  kmYTicks.forEach(p => {
    const tick = mk(g, 'line', { x1: 1112, x2: 1122, y1: yK(p), y2: yK(p), stroke: '#444', 'stroke-width': 1.4 });
    
    
    const lab = mk(g, 'text', { transform: 'translate(1099.5,' + yK(p) + ') rotate(-90)', 'text-anchor': 'middle', 'font-size': 24, fill: '#111' }, p.toFixed(1));
    
    
  });

  function survAt(times, surv, t) {
    let s = surv[0];
    for (let i = 0; i < times.length; i++) { if (times[i] <= t) s = surv[i]; }
    return s;
  }
  function drawCurve(times, surv, censors, col, name) {
    let d = 'M' + xK(times[0]) + ' ' + yK(surv[0]);
    for (let i = 1; i < times.length; i++) {
      d += 'H' + xK(times[i]) + 'V' + yK(surv[i]);
    }
    const path = mk(g, 'path', { d: d, fill: 'none', stroke: col, 'stroke-width': 1.7 });
    
    
    censors.forEach(t => {
      const cx = xK(t), cy = yK(survAt(times, surv, t));
      const m = mk(g, 'path', { d: 'M' + (cx - 6) + ' ' + cy + 'H' + (cx + 6) + 'M' + cx + ' ' + (cy - 6) + 'V' + (cy + 6), fill: 'none', stroke: col, 'stroke-width': 1.5 });
      
      
    });
  }
  drawCurve(lowStepTime, lowStepSurv, lowCensorTime, lowCol, 'low');
  drawCurve(highStepTime, highStepSurv, highCensorTime, highCol, 'high');

  el = mk(g, 'circle', { cx: 1145, cy: 489.5, r: 0.8, fill: '#222' });
  
  
})();

/* ---------- Panel C ---------- */
function drawScatter(cfg) {
  const g = document.getElementById(cfg.id);
  const xS = v => cfg.x2 + (v - 2) * cfg.xs;
  const yS = v => cfg.yBase - (v - cfg.yBaseVal) * cfg.ys;

  let el = mk(g, 'line', { x1: cfg.axisX, x2: cfg.axisX, y1: cfg.top, y2: cfg.bottom + 1.5, stroke: '#000', 'stroke-width': 3 });
  
  
  el = mk(g, 'line', { x1: cfg.axisX - 1.5, x2: cfg.right, y1: cfg.bottom, y2: cfg.bottom, stroke: '#000', 'stroke-width': 3 });
  
  

  cfg.yTicks.forEach(t => {
    const tick = mk(g, 'line', { x1: cfg.axisX - 11, x2: cfg.axisX, y1: yS(t), y2: yS(t), stroke: '#000', 'stroke-width': 2.6 });
    
    
    const lab = mk(g, 'text', { x: cfg.yLabelX, y: yS(t) + 8.5, 'text-anchor': 'end', 'font-size': 23.5, fill: '#111' }, String(t));
    
    
  });
  cfg.xTicks.forEach(t => {
    const tick = mk(g, 'line', { x1: xS(t), x2: xS(t), y1: cfg.bottom, y2: cfg.bottom + 11, stroke: '#000', 'stroke-width': 2.6 });
    
    
    const lab = mk(g, 'text', { x: xS(t) + 3, y: cfg.xLabelY, 'text-anchor': 'middle', 'font-size': 23.5, fill: '#111' }, String(t));
    
    
  });

  let up = '', lo = '', fit = '';
  cfg.fitX.forEach((x, i) => {
    up += (i ? 'L' : 'M') + xS(x) + ' ' + yS(cfg.fitY[i] + cfg.fitCI[i]);
    fit += (i ? 'L' : 'M') + xS(x) + ' ' + yS(cfg.fitY[i]);
  });
  for (let i = cfg.fitX.length - 1; i >= 0; i--) {
    lo += 'L' + xS(cfg.fitX[i]) + ' ' + yS(cfg.fitY[i] - cfg.fitCI[i]);
  }

  el = mk(g, 'path', { d: fit, fill: 'none', stroke: 'rgb(122,184,214)', 'stroke-width': 2.4 });
  
  

  cfg.points.forEach(p => {
    const c = mk(g, 'circle', { cx: xS(p[0]), cy: yS(p[1]), r: 6.1, fill: 'rgba(122,184,214,0.62)', stroke: 'rgba(122,184,214,0.95)', 'stroke-width': 1.7 });
    
    
  });

  el = mk(g, 'path', { d: up + lo + 'Z', fill: 'rgba(195,195,195,0.3)' });
  
  
}

drawScatter({ id: 'panelC1', name: 'rhoa', points: rhoaPoints.concat(rhoaCorePoints, rhoaDensePoints), yTicks: rhoaYTicks, xTicks: ectXTicks, fitX: rhoaFitX, fitY: rhoaFitY, fitCI: rhoaFitCI,
  x2: 203, xs: 52.3, yBase: 904.5, yBaseVal: 8, ys: 90.2, axisX: 140.7, top: 724, bottom: 1162, right: 553.5, yLabelX: 120, xLabelY: 1202 });
drawScatter({ id: 'panelC2', name: 'rock1', points: rock1Points.concat(rock1CorePoints, rock1DensePoints), yTicks: rock1YTicks, xTicks: ectXTicks, fitX: rock1FitX, fitY: rock1FitY, fitCI: rock1FitCI,
  x2: 797.4, xs: 54.03, yBase: 1084, yBaseVal: 2, ys: 80.95, axisX: 732.3, top: 739, bottom: 1177, right: 1160, yLabelX: 712, xLabelY: 1216 });
drawScatter({ id: 'panelC3', name: 'rock2', points: rock2Points.concat(rock2CorePoints, rock2DensePoints), yTicks: rock2YTicks, xTicks: ectXTicks, fitX: rock2FitX, fitY: rock2FitY, fitCI: rock2FitCI,
  x2: 1409.6, xs: 53.17, yBase: 1107.8, yBaseVal: 2, ys: 83.6, axisX: 1346.2, top: 724, bottom: 1162, right: 1766.5, yLabelX: 1326, xLabelY: 1202 });
</script>
</body>
</html>
